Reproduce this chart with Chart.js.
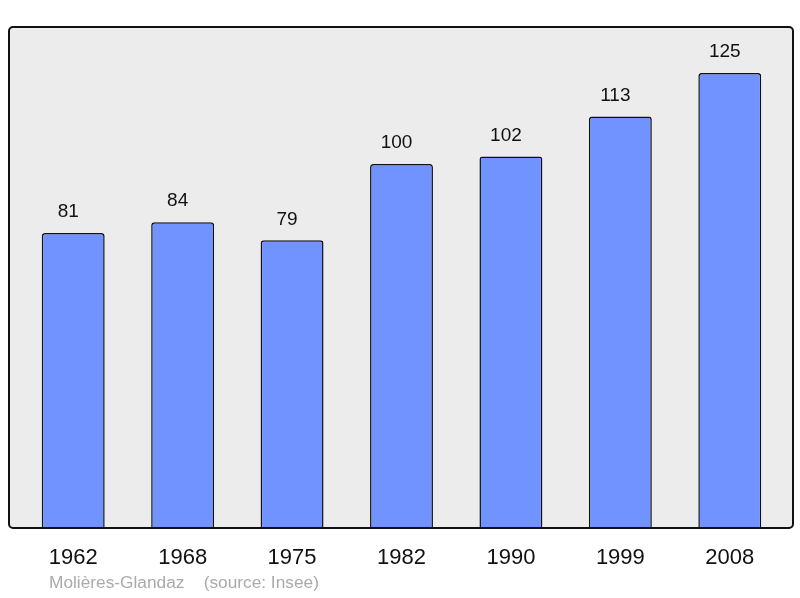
<!DOCTYPE html>
<html>
<head>
<meta charset="utf-8">
<script src="https://cdn.jsdelivr.net/npm/chart.js@4"></script>
<style>
  html, body { margin: 0; padding: 0; background: #fff; }
  #wrap { width: 800px; height: 598px; }
</style>
</head>
<body>
<div id="wrap"><canvas id="popChart" width="800" height="598"></canvas></div>
<script>
const years = ['1962', '1968', '1975', '1982', '1990', '1999', '2008'];
const population = [81, 84, 79, 100, 102, 113, 125];
const sourceNote = 'Molières-Glandaz    (source: Insee)';

// fond gris + cadre noir autour de la zone des barres
const framePlugin = {
  id: 'frame',
  beforeDatasetsDraw(chart) {
    const { ctx, chartArea: a } = chart;
    ctx.save();
    ctx.fillStyle = '#ececec';
    ctx.beginPath();
    ctx.roundRect(a.left - 9.5, a.top, a.right - a.left + 18, a.bottom - a.top, 4);
    ctx.fill();
    ctx.restore();
  },
  afterDatasetsDraw(chart) {
    const { ctx, chartArea: a } = chart;
    ctx.save();
    ctx.strokeStyle = '#111';
    ctx.lineWidth = 2;
    ctx.beginPath();
    ctx.roundRect(a.left - 9.5, a.top, a.right - a.left + 18, a.bottom - a.top, 4);
    ctx.stroke();

    // valeurs au-dessus des barres
    ctx.fillStyle = '#111';
    ctx.font = '19px "Liberation Sans", Arial, sans-serif';
    ctx.textAlign = 'center';
    ctx.textBaseline = 'middle';
    chart.getDatasetMeta(0).data.forEach((bar, i) => {
      ctx.fillText(String(population[i]), bar.x - 5, bar.y - 21);
    });

    // source en bas à gauche
    ctx.fillStyle = '#aaaaaa';
    ctx.font = '17.3px "Liberation Sans", Arial, sans-serif';
    ctx.textAlign = 'left';
    ctx.fillText(sourceNote, 49, 583);
    ctx.restore();
  }
};

new Chart(document.getElementById('popChart').getContext('2d'), {
  type: 'bar',
  data: {
    labels: years,
    datasets: [{
      data: population,
      backgroundColor: '#7093ff',
      borderColor: '#111',
      borderWidth: 1.5,
      borderRadius: 3,
      borderSkipped: 'bottom',
      barPercentage: 0.575,
      categoryPercentage: 1
    }]
  },
  options: {
    responsive: false,
    animation: false,
    layout: { padding: { left: 18.5, right: 15.5, top: 27, bottom: 0 } },
    plugins: { legend: { display: false }, tooltip: { enabled: false } },
    scales: {
      x: {
        grid: { display: false },
        border: { display: false },
        ticks: {
          color: '#111',
          padding: 9,
          font: { family: '"Liberation Sans", Arial, sans-serif', size: 22 }
        },
        afterFit(scale) { scale.height = 70; }
      },
      y: {
        display: false,
        min: 0,
        max: 137.6
      }
    }
  },
  plugins: [framePlugin]
});
</script>
</body>
</html>
